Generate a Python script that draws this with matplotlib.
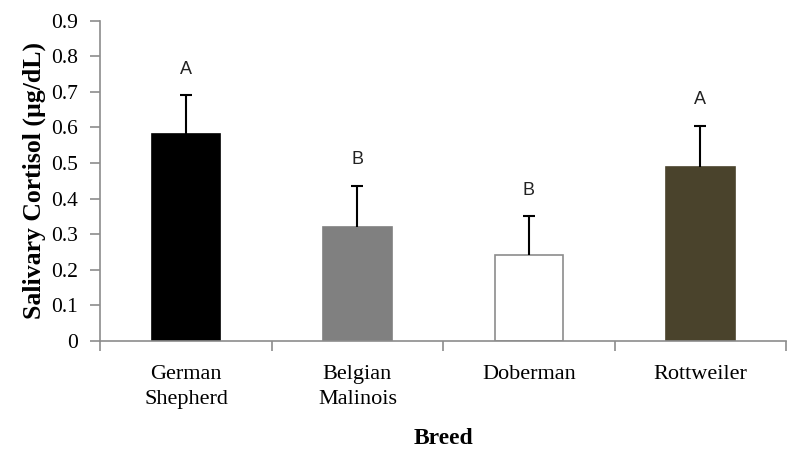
import matplotlib
matplotlib.use('Agg')
import matplotlib.pyplot as plt
import numpy as np

# ── data ──
breeds = ['German\nShepherd', 'Belgian\nMalinois', 'Doberman', 'Rottweiler']
cortisol = [0.58, 0.32, 0.24, 0.49]
se = [0.11, 0.115, 0.11, 0.115]
letters = ['A', 'B', 'B', 'A']

bar_colors = ['#000000', '#808080', '#FFFFFF', '#4A432C']
edge_colors = ['#000000', '#808080', '#8C8C8C', '#4A432C']
AXIS = '#8C8C8C'

plt.rcParams['font.family'] = ['Liberation Serif', 'DejaVu Serif']

fig = plt.figure(figsize=(7.9, 4.57), dpi=100)
ax = fig.add_axes([0.127, 0.254, 0.868, 0.701])

x = np.arange(len(breeds))
ax.bar(x, cortisol, width=0.4, color=bar_colors, edgecolor=edge_colors,
       linewidth=1.2, zorder=2)
eb = ax.errorbar(x, cortisol, yerr=[np.zeros(len(se)), se], fmt='none',
                 ecolor='black', elinewidth=1.5, capsize=4.5, capthick=1.5, zorder=3)
# only the upper cap, like the original
eb[1][0].set_visible(False)

for xi, v, s, lab in zip(x, cortisol, se, letters):
    ax.text(xi, v + s + 0.05, lab, ha='center', va='bottom', fontsize=13,
            family=['Liberation Sans', 'DejaVu Sans'], color='#222222')

ax.set_xlim(-0.5, 3.5)
ax.set_ylim(0, 0.9)
ax.set_yticks(np.arange(0, 0.91, 0.1))
ax.set_yticklabels(['0'] + ['%.1f' % v for v in np.arange(0.1, 0.91, 0.1)])
ax.set_xticks(x)
ax.set_xticklabels(breeds, fontsize=16, linespacing=1.45)
ax.set_xticks(np.arange(-0.5, 3.6, 1), minor=True)
ax.tick_params(axis='x', which='major', length=0, pad=17)
ax.tick_params(axis='x', which='minor', length=7, color=AXIS, width=1.2)
ax.tick_params(axis='y', length=7, color=AXIS, width=1.2, labelsize=15.5, pad=9)

for side in ['top', 'right']:
    ax.spines[side].set_visible(False)
for side in ['left', 'bottom']:
    ax.spines[side].set_color(AXIS)
    ax.spines[side].set_linewidth(1.2)

ax.set_ylabel('Salivary Cortisol (µg/dL)', fontsize=18.5, fontweight='bold', labelpad=4)
ax.set_xlabel('Breed', fontsize=17, fontweight='bold', labelpad=14)

fig.savefig('out.png', dpi=100, facecolor='white')
